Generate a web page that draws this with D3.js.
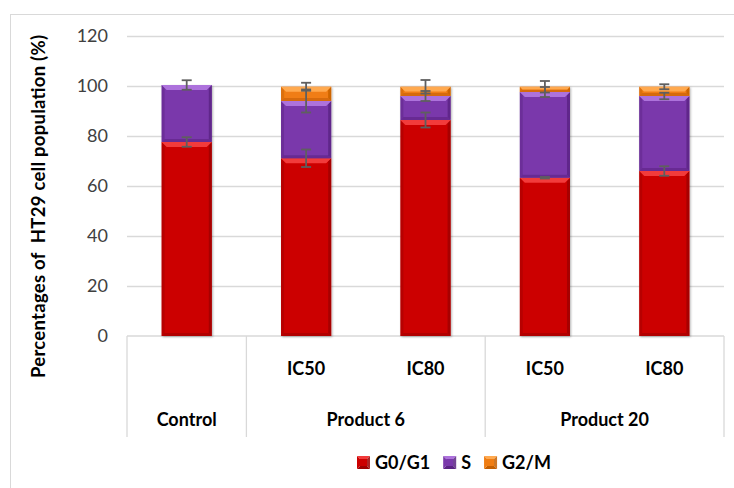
<!DOCTYPE html>
<html>
<head>
<meta charset="utf-8">
<script src="https://cdn.jsdelivr.net/npm/d3@7"></script>
<style>
  html, body { margin: 0; padding: 0; background: #fff; }
  svg { display: block; font-family: Lato, "Open Sans", sans-serif; }
</style>
</head>
<body>
<svg id="chart" width="734" height="488"></svg>
<script>
// Cell-cycle distribution of HT29 cells (%), one stacked bar per condition
const groups = ["Control", "Product 6", "Product 6", "Product 20", "Product 20"];
const doses = ["", "IC50", "IC80", "IC50", "IC80"];
const g0g1 = [77.6, 71.1, 86.4, 63.3, 66.0];
const sPhase = [22.8, 22.9, 9.6, 34.3, 30.0];
const g2m = [0, 5.7, 3.7, 2.1, 3.7];
const g0g1Err = [1.9, 3.5, 3.0, 0.3, 1.9];
const sPhaseErr = [1.9, 4.6, 2.0, 2.0, 1.3];
const g2mErr = [0, 1.6, 2.7, 2.3, 1.0];
const seriesNames = ["G0/G1", "S", "G2/M"];
const yTicks = [0, 20, 40, 60, 80, 100, 120];

const palette = [
  { base: "#cc0000", light: "#f23a3a", dark: "#9e0000" },
  { base: "#7a39ab", light: "#ad72dc", dark: "#5a2383" },
  { base: "#f07d12", light: "#ffa94f", dark: "#c45f00" }
];

const svg = d3.select("#chart");
const plotLeft = 127, plotRight = 724, plotTop = 36, plotBottom = 336, tableBottom = 437;

const x = d3.scaleBand().domain(d3.range(groups.length))
  .range([plotLeft, plotRight]).paddingInner(0.58).paddingOuter(0.29);
const y = d3.scaleLinear().domain([0, 120]).range([plotBottom, plotTop]);

// chart frame
svg.append("rect").attr("x", 10.5).attr("y", 14.5).attr("width", 740).attr("height", 490)
  .attr("fill", "none").attr("stroke", "#d9d9d9");

// gridlines
svg.append("g").attr("transform", `translate(${plotLeft},0)`)
  .call(d3.axisLeft(y).tickValues(yTicks.filter(t => t > 0)).tickSize(-(plotRight - plotLeft)).tickFormat(""))
  .call(g => g.select(".domain").remove())
  .call(g => g.selectAll("line").attr("stroke", "#d9d9d9").attr("stroke-width", 1.3));

// value axis labels
svg.append("g").attr("transform", `translate(${plotLeft},0)`)
  .call(d3.axisLeft(y).tickValues(yTicks).tickSize(0).tickPadding(19))
  .call(g => g.select(".domain").remove())
  .call(g => g.selectAll("text").attr("font-family", "Lato, sans-serif")
    .attr("font-size", 18).attr("fill", "#404040"));

// axis title
svg.append("text")
  .attr("transform", "translate(45,206.5) rotate(-90)")
  .attr("text-anchor", "middle")
  .style("white-space", "pre")
  .attr("textLength", 343).attr("lengthAdjust", "spacing")
  .attr("font-size", 18.5).attr("font-weight", "bold").attr("fill", "#000")
  .text("Percentages of  HT29 cell population (%)");

// multi-level category table
const step = x.step();
const groupSpans = [];
groups.forEach((g, i) => {
  const last = groupSpans[groupSpans.length - 1];
  if (last && last.name === g) last.end = i;
  else groupSpans.push({ name: g, start: i, end: i });
});
const edgeX = i => Math.min(plotLeft + step * i, plotRight);
const table = svg.append("g").attr("stroke", "#d9d9d9").attr("stroke-width", 1.3);
table.append("line").attr("x1", plotLeft).attr("x2", plotRight).attr("y1", plotBottom).attr("y2", plotBottom);
const boundaries = [0].concat(groupSpans.map(s => s.end + 1));
boundaries.forEach(b => {
  const bx = edgeX(b);
  table.append("line").attr("x1", bx).attr("x2", bx).attr("y1", plotBottom).attr("y2", tableBottom);
});

svg.append("g").selectAll("text").data(doses).join("text")
  .attr("x", (d, i) => x(i) + x.bandwidth() / 2).attr("y", 375)
  .attr("text-anchor", "middle").attr("font-size", 18).attr("font-weight", "bold")
  .attr("fill", "#000").text(d => d);

svg.append("g").selectAll("text").data(groupSpans).join("text")
  .attr("x", s => (edgeX(s.start) + edgeX(s.end + 1)) / 2).attr("y", 426)
  .attr("text-anchor", "middle").attr("font-size", 18).attr("font-weight", "bold")
  .attr("fill", "#000").text(s => s.name);

// shadow for bars
const defs = svg.append("defs");
defs.append("filter").attr("id", "barShadow").attr("x", "-20%").attr("y", "-5%")
  .attr("width", "140%").attr("height", "110%")
  .append("feDropShadow").attr("dx", 1).attr("dy", 1).attr("stdDeviation", 1)
  .attr("flood-color", "#000").attr("flood-opacity", 0.3);

// stacked bars
const rows = groups.map((g, i) => ({ i, vals: [g0g1[i], sPhase[i], g2m[i]] }));
const stack = d3.stack().keys([0, 1, 2]).value((d, k) => d.vals[k]);
const layers = stack(rows);

function bevelSegment(g, x0, y0, w, h, c) {
  if (h <= 0) return;
  const b = Math.min(5, h / 2), s = Math.min(3, h / 2);
  const x1 = x0 + w, y1 = y0 + h;
  g.append("rect").attr("x", x0).attr("y", y0).attr("width", w).attr("height", h).attr("fill", c.base);
  g.append("polygon").attr("points", [[x0, y0], [x0 + s, y0 + s], [x0 + s, y1 - s], [x0, y1]].join(" "))
    .attr("fill", c.dark).attr("opacity", 0.45);
  g.append("polygon").attr("points", [[x1, y0], [x1 - s, y0 + s], [x1 - s, y1 - s], [x1, y1]].join(" "))
    .attr("fill", c.dark).attr("opacity", 0.8);
  g.append("polygon").attr("points", [[x0, y1], [x0 + s, y1 - s], [x1 - s, y1 - s], [x1, y1]].join(" "))
    .attr("fill", c.dark).attr("opacity", 0.6);
  g.append("polygon").attr("points", [[x0, y0], [x1, y0], [x1 - b, y0 + b], [x0 + b, y0 + b]].join(" "))
    .attr("fill", c.light);
}

const bars = svg.append("g");
rows.forEach((r, i) => {
  const bg = bars.append("g").attr("filter", "url(#barShadow)");
  layers.forEach((layer, k) => {
    const d = layer[i];
    bevelSegment(bg, x(i), y(d[1]), x.bandwidth(), y(d[0]) - y(d[1]), palette[k]);
  });
});

// error bars at each stacked segment top
const errs = [g0g1Err, sPhaseErr, g2mErr];
const eb = svg.append("g").attr("stroke", "#5f5f5f").attr("stroke-width", 1.8);
layers.forEach((layer, k) => {
  layer.forEach((d, i) => {
    const e = errs[k][i];
    if (!(e > 0) || d[1] - d[0] <= 0) return;
    const cx = x(i) + x.bandwidth() / 2;
    const ya = y(d[1] + e), yb = y(d[1] - e);
    eb.append("line").attr("x1", cx).attr("x2", cx).attr("y1", ya).attr("y2", yb);
    eb.append("line").attr("x1", cx - 5).attr("x2", cx + 5).attr("y1", ya).attr("y2", ya);
    eb.append("line").attr("x1", cx - 5).attr("x2", cx + 5).attr("y1", yb).attr("y2", yb);
  });
});

// legend
const legend = svg.append("g");
let lx = 357;
seriesNames.forEach((name, k) => {
  const c = palette[k], sz = 13, ly = 456;
  const cxm = lx + sz / 2, cym = ly + sz / 2;
  const corner = [[lx, ly], [lx + sz, ly], [lx + sz, ly + sz], [lx, ly + sz]];
  const shades = [c.light, c.dark, c.dark, c.base];
  [[0, 1], [1, 2], [2, 3], [3, 0]].forEach(([a, b2], j) => {
    legend.append("polygon").attr("points", [corner[a], corner[b2], [cxm, cym]].join(" "))
      .attr("fill", shades[j]).attr("opacity", j === 1 ? 0.85 : 1);
  });
  legend.append("rect").attr("x", lx + 3).attr("y", ly + 3).attr("width", sz - 6).attr("height", sz - 6)
    .attr("fill", c.base);
  const t = legend.append("text").attr("x", lx + sz + 5).attr("y", ly + sz)
    .attr("font-size", 18).attr("font-weight", "bold").attr("fill", "#000").text(name);
  lx += sz + 5 + t.node().getComputedTextLength() + 13;
});
</script>
</body>
</html>
